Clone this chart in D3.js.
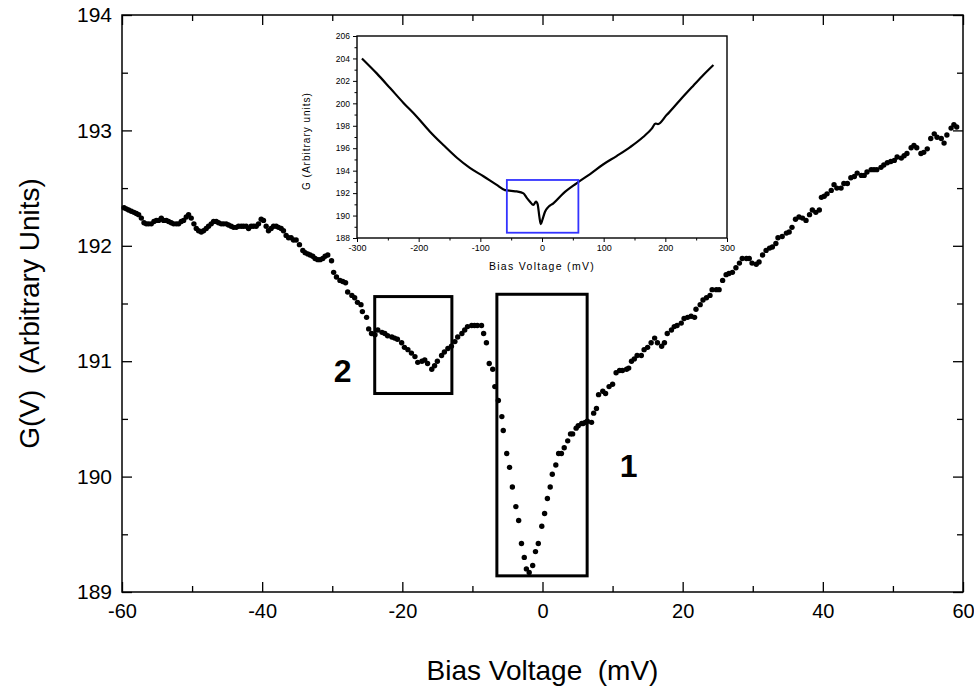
<!DOCTYPE html>
<html>
<head>
<meta charset="utf-8">
<script src="https://cdn.jsdelivr.net/npm/d3@7"></script>
<style>
  body { margin: 0; background: #fff; }
  svg text { font-family: "Liberation Sans", Arial, Helvetica, sans-serif; fill: #000; }
</style>
</head>
<body>
<svg id="chart"></svg>
<script>
/* ===== Data ===== */

// Main panel: G(V) dots, [bias mV, conductance]
const gvPoints = [
  [-59.71,192.33],[-59.38,192.32],[-59.05,192.31],[-58.67,192.30],[-58.29,192.29],[-57.95,192.28],
  [-57.62,192.27],[-57.24,192.24],[-56.86,192.20],[-56.53,192.19],[-56.20,192.19],[-55.82,192.19],
  [-55.44,192.21],[-55.10,192.22],[-54.77,192.22],[-54.39,192.24],[-54.06,192.22],[-53.68,192.22],
  [-53.35,192.21],[-52.97,192.20],[-52.63,192.19],[-52.25,192.19],[-51.92,192.19],[-51.54,192.21],
  [-51.21,192.22],[-50.83,192.25],[-50.50,192.27],[-50.12,192.24],[-49.74,192.19],[-49.40,192.15],
  [-49.07,192.13],[-48.69,192.12],[-48.36,192.13],[-47.98,192.15],[-47.65,192.17],[-47.27,192.19],
  [-46.93,192.21],[-46.55,192.21],[-46.22,192.20],[-45.84,192.19],[-45.51,192.19],[-45.13,192.19],
  [-44.80,192.18],[-44.42,192.17],[-44.08,192.16],[-43.70,192.16],[-43.37,192.17],[-42.99,192.17],
  [-42.66,192.17],[-42.28,192.17],[-41.94,192.15],[-41.57,192.17],[-41.23,192.17],[-40.85,192.17],
  [-40.52,192.19],[-40.14,192.23],[-39.81,192.22],[-39.43,192.17],[-39.10,192.13],[-38.72,192.15],
  [-38.38,192.17],[-38.00,192.17],[-37.67,192.16],[-37.29,192.15],[-36.96,192.13],[-36.58,192.09],
  [-36.24,192.07],[-35.87,192.07],[-35.53,192.05],[-35.15,192.05],[-34.68,192.01],[-34.20,191.96],
  [-33.87,191.94],[-33.49,191.93],[-33.16,191.92],[-32.78,191.91],[-32.45,191.89],[-32.07,191.88],
  [-31.73,191.88],[-31.35,191.89],[-31.02,191.91],[-30.64,191.92],
  [-30.1,191.87],[-29.8,191.77],[-29.4,191.73],[-28.9,191.70],[-28.5,191.69],[-28.1,191.68],
  [-27.8,191.60],[-27.2,191.57],[-26.8,191.55],[-26.4,191.51],[-25.9,191.49],[-25.7,191.43],
  [-25.1,191.38],[-24.8,191.28],[-24.4,191.24],[-23.9,191.23],[-23.5,191.27],[-22.9,191.25],
  [-22.5,191.24],[-22.1,191.22],[-21.5,191.21],[-21.1,191.20],[-20.7,191.19],[-20.1,191.16],
  [-19.7,191.12],[-19.2,191.10],[-18.7,191.07],[-18.2,191.04],[-17.8,190.99],[-17.2,191.00],
  [-16.8,191.01],[-16.4,190.98],[-15.8,190.93],[-15.4,190.96],[-15.0,191.00],[-14.4,191.05],
  [-14.0,191.08],[-13.5,191.11],[-13.0,191.13],[-12.5,191.17],[-12.1,191.21],[-11.5,191.24],
  [-11.1,191.27],[-10.7,191.30],[-10.1,191.31],[-9.7,191.31],[-9.3,191.31],
  [-8.7,191.31],[-8.4,191.24],[-8.0,191.16],[-7.6,190.98],[-7.1,190.93],[-6.8,190.78],
  [-6.3,190.66],[-5.8,190.52],[-5.6,190.40],[-5.1,190.20],[-4.7,190.08],[-4.3,189.91],
  [-3.8,189.74],[-3.4,189.62],[-3.0,189.42],[-2.6,189.30],[-2.3,189.20],[-1.9,189.17],
  [-1.4,189.23],[-1.0,189.35],[-0.6,189.42],[-0.1,189.57],[0.3,189.68],[0.7,189.81],
  [1.1,189.91],[1.4,190.02],[1.9,190.10],[2.3,190.20],[2.7,190.20],[3.1,190.25],
  [3.6,190.31],[4.0,190.37],[4.3,190.37],[4.8,190.42],[5.1,190.44],[5.6,190.46],
  [5.8,190.46],[6.1,190.47],[6.4,190.48],[7.0,190.47],[7.3,190.55],[7.7,190.59],[8.0,190.71],
  [8.6,190.74],[9.0,190.72],[9.5,190.78],[10.0,190.80],[10.5,190.90],[11.0,190.92],
  [11.4,190.92],[12.0,190.93],[12.3,190.94],[12.7,191.00],[13.1,191.02],[13.5,191.05],
  [14.1,191.05],[14.5,191.10],[15.0,191.12],[15.5,191.16],[16.0,191.20],[16.4,191.16],
  [17.0,191.13],[17.4,191.16],[17.8,191.24],[18.4,191.27],[18.8,191.30],[19.2,191.31],
  [19.8,191.33],[20.2,191.37],[20.7,191.38],[21.2,191.39],[21.7,191.38],[21.9,191.45],
  [22.5,191.49],[22.9,191.53],[23.4,191.55],[23.9,191.57],[24.2,191.62],[24.8,191.62],
  [25.2,191.62],[25.7,191.70],[26.2,191.75],[26.6,191.76],[27.1,191.77],[27.6,191.81],
  [28.1,191.85],[28.5,191.89],[29.1,191.89],[29.5,191.89],[29.9,191.85],[30.5,191.84],
  [30.9,191.86],[31.4,191.92],[31.9,191.96],[32.4,191.98],[32.8,191.99],[33.3,192.02],[33.6,192.07],
  [34.2,192.08],[34.8,192.11],[35.2,192.12],[35.6,192.16],[36.1,192.23],[36.6,192.25],
  [37.1,192.24],[37.6,192.22],[38.1,192.27],[38.5,192.31],[39.0,192.29],[39.5,192.31],
  [39.8,192.42],[40.2,192.43],[40.6,192.45],[41.2,192.48],[41.6,192.53],[42.0,192.50],
  [42.6,192.50],[43.0,192.54],[43.5,192.54],[44.0,192.59],[44.5,192.60],[44.9,192.63],
  [45.5,192.61],[45.9,192.61],[46.3,192.64],[46.9,192.66],[47.3,192.66],[47.7,192.66],
  [48.3,192.68],[48.7,192.70],[49.2,192.72],[49.7,192.73],[50.2,192.74],[50.6,192.77],
  [51.2,192.76],[51.6,192.78],[52.0,192.80],[52.6,192.85],[53.0,192.87],[53.4,192.85],
  [54.0,192.80],[54.4,192.81],[54.9,192.84],[55.4,192.93],[55.9,192.97],[56.3,192.94],
  [56.9,192.93],[57.3,192.89],[57.7,192.96],[58.3,193.02],[58.7,193.05],[59.1,193.03]
];

// Inset: wide-range G(V) curve, [bias mV, G]
const insetPoints = [
  [-292,204.00],[-268,202.67],[-246,201.34],[-225,200.06],[-203,198.81],[-182,197.50],
  [-160,196.29],[-138,195.15],[-117,194.25],[-95,193.50],[-74,192.75],[-60,192.27],
  [-50,192.20],[-41,192.15],[-30,191.98],[-25,191.60],[-19.5,191.23],[-14,190.94],
  [-9.7,191.25],[-7,191.00],[-4.3,189.90],[-2,189.24],[0.5,189.60],[4.9,190.34],
  [10,190.75],[18.4,191.09],[34.6,191.98],[56,192.87],[78,193.70],[99,194.55],
  [121,195.30],[143,196.10],[164,197.00],[178,197.75],[184,198.20],[188,198.15],
  [202,198.95],[224,200.30],[245,201.55],[262,202.55],[278,203.42]
];

// Annotation boxes on the main panel, [x0, x1, y0, y1] in data units
const featureBoxes = [
  { name: '2', extent: [-23.94, -12.93, 190.72, 191.56], label: [-28.5, 190.92] },
  { name: '1', extent: [-6.51, 6.37, 189.14, 191.58], label: [12.3, 190.10] }
];

// Zoom window shown in the inset
const insetWindow = [-57, 59, 188.47, 193.17];

// Ticks
const xMajorTicks = [-60, -40, -20, 0, 20, 40, 60];
const xMinorTicks = [-50, -30, -10, 10, 30, 50];
const yMajorTicks = [189, 190, 191, 192, 193, 194];
const yMinorTicks = [189.5, 190.5, 191.5, 192.5, 193.5];

const insetXMajor = [-300, -200, -100, 0, 100, 200, 300];
const insetXMinor = [-250, -150, -50, 50, 150, 250];
const insetYMajor = [188, 190, 192, 194, 196, 198, 200, 202, 204, 206];
const insetYMinor = [189, 191, 193, 195, 197, 199, 201, 203, 205];

/* ===== Layout ===== */
const W = 974, H = 694;
const margin = { top: 15, right: 11, bottom: 102, left: 122 };
const width = W - margin.left - margin.right;
const height = H - margin.top - margin.bottom;

const svg = d3.select('#chart').attr('width', W).attr('height', H);

const g = svg.append('g')
    .attr('transform', `translate(${margin.left},${margin.top})`);

// Scales
const x = d3.scaleLinear().domain([-60, 60]).range([0, width]);
const y = d3.scaleLinear().domain([189, 194]).range([height, 0]);

const noDomain = sel => sel.select('.domain').remove();
const plain = d => String(d);

// === Axes (ticks point inward, mirrored on top/right) ===
g.append('g').attr('transform', `translate(0,${height})`)
    .call(d3.axisBottom(x).tickValues(xMinorTicks).tickSize(-6).tickFormat(''));
const bottomMajor = g.append('g').attr('transform', `translate(0,${height})`)
    .call(d3.axisBottom(x).tickValues(xMajorTicks).tickSize(-10).tickPadding(12).tickFormat(plain));
bottomMajor.selectAll('text').style('font-size', '20px');

g.append('g').call(d3.axisTop(x).tickValues(xMinorTicks).tickSize(-6).tickFormat(''));
g.append('g').call(d3.axisTop(x).tickValues(xMajorTicks).tickSize(-10).tickFormat(''));

g.append('g').call(d3.axisLeft(y).tickValues(yMinorTicks).tickSize(-6).tickFormat(''));
const leftMajor = g.append('g')
    .call(d3.axisLeft(y).tickValues(yMajorTicks).tickSize(-10).tickPadding(10).tickFormat(plain));
leftMajor.selectAll('text').style('font-size', '21px');

g.append('g').attr('transform', `translate(${width},0)`)
    .call(d3.axisRight(y).tickValues(yMinorTicks).tickSize(-6).tickFormat(''));
g.append('g').attr('transform', `translate(${width},0)`)
    .call(d3.axisRight(y).tickValues(yMajorTicks).tickSize(-10).tickFormat(''));

g.selectAll('.tick line').attr('stroke', '#000').attr('stroke-width', 1.3);
g.selectAll('g').call(noDomain);

// Frame
g.append('rect')
    .attr('width', width).attr('height', height)
    .attr('fill', 'none').attr('stroke', '#000').attr('stroke-width', 1.5);

// Axis titles
svg.append('text')
    .attr('x', margin.left + x(0)).attr('y', 680)
    .attr('text-anchor', 'middle')
    .style('white-space', 'pre')
    .style('font-size', '28px')
    .text('Bias Voltage  (mV)');

svg.append('text')
    .attr('transform', `translate(39,${margin.top + height / 2 + 10}) rotate(-90)`)
    .attr('text-anchor', 'middle')
    .style('white-space', 'pre')
    .style('font-size', '28px')
    .text('G(V)  (Arbitrary Units)');

// === Feature boxes ===
g.selectAll('.feature-box')
    .data(featureBoxes)
    .join('rect')
    .attr('class', 'feature-box')
    .attr('x', d => x(d.extent[0]))
    .attr('y', d => y(d.extent[3]))
    .attr('width', d => x(d.extent[1]) - x(d.extent[0]))
    .attr('height', d => y(d.extent[2]) - y(d.extent[3]))
    .attr('fill', 'none')
    .attr('stroke', '#000')
    .attr('stroke-width', 3);

g.selectAll('.feature-label')
    .data(featureBoxes)
    .join('text')
    .attr('class', 'feature-label')
    .attr('x', d => x(d.label[0]))
    .attr('y', d => y(d.label[1]))
    .attr('dy', '0.36em')
    .attr('text-anchor', 'middle')
    .style('font-size', '32px')
    .style('font-weight', 'bold')
    .text(d => d.name);

// === Data dots ===
g.append('g')
    .selectAll('circle')
    .data(gvPoints)
    .join('circle')
    .attr('cx', d => x(d[0]))
    .attr('cy', d => y(d[1]))
    .attr('r', 2.7)
    .attr('fill', '#000');

/* ===== Inset ===== */
const inset = { left: 357, top: 36, width: 370, height: 202 };
const ig = svg.append('g')
    .attr('transform', `translate(${inset.left},${inset.top})`);

const xi = d3.scaleLinear().domain([-300, 300]).range([0, inset.width]);
const yi = d3.scaleLinear().domain([188, 206]).range([inset.height, 0]);

ig.append('rect')
    .attr('width', inset.width).attr('height', inset.height)
    .attr('fill', '#fff').attr('stroke', '#000').attr('stroke-width', 1.4);

ig.append('g').attr('transform', `translate(0,${inset.height})`)
    .call(d3.axisBottom(xi).tickValues(insetXMinor).tickSize(2.5).tickFormat(''));
const ixMajor = ig.append('g').attr('transform', `translate(0,${inset.height})`)
    .call(d3.axisBottom(xi).tickValues(insetXMajor).tickSize(4).tickPadding(3).tickFormat(plain));
ixMajor.selectAll('text').style('font-size', '9px');

ig.append('g')
    .call(d3.axisLeft(yi).tickValues(insetYMinor).tickSize(2.5).tickFormat(''));
const iyMajor = ig.append('g')
    .call(d3.axisLeft(yi).tickValues(insetYMajor).tickSize(4).tickPadding(3).tickFormat(plain));
iyMajor.selectAll('text').style('font-size', '8.5px');

ig.selectAll('.tick line').attr('stroke', '#000').attr('stroke-width', 1);
ig.selectAll('g').call(noDomain);

// Inset curve
const insetLine = d3.line()
    .x(d => xi(d[0]))
    .y(d => yi(d[1]))
    .curve(d3.curveMonotoneX);

ig.append('path')
    .datum(insetPoints)
    .attr('d', insetLine)
    .attr('fill', 'none')
    .attr('stroke', '#000')
    .attr('stroke-width', 2.2)
    .attr('stroke-linejoin', 'round');

// Zoom window
ig.append('rect')
    .attr('x', xi(insetWindow[0]))
    .attr('y', yi(insetWindow[3]))
    .attr('width', xi(insetWindow[1]) - xi(insetWindow[0]))
    .attr('height', yi(insetWindow[2]) - yi(insetWindow[3]))
    .attr('fill', 'none')
    .attr('stroke', '#3333ff')
    .attr('stroke-width', 1.8);

// Inset titles
ig.append('text')
    .attr('x', xi(0)).attr('y', 234)
    .attr('text-anchor', 'middle')
    .style('font-size', '10.5px')
    .style('letter-spacing', '1.3px')
    .text('Bias Voltage (mV)');

ig.append('text')
    .attr('transform', `translate(-47,${inset.height / 2 + 4}) rotate(-90)`)
    .attr('text-anchor', 'middle')
    .style('font-size', '10px')
    .style('letter-spacing', '1px')
    .text('G (Arbitrary units)');
</script>
</body>
</html>
